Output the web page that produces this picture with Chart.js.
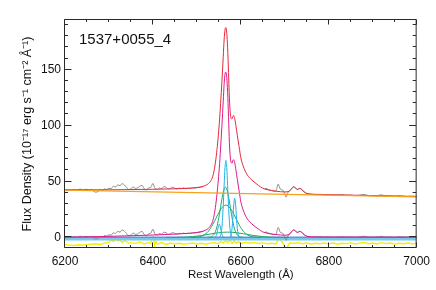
<!DOCTYPE html>
<html><head><meta charset="utf-8">
<script src="https://cdn.jsdelivr.net/npm/chart.js@4"></script>
<style>html,body{margin:0;padding:0;background:#fff}</style>
</head><body>
<canvas id="c" width="436" height="290"></canvas>
<script>
// ---------- data ----------
const objectName = '1537+0055_4';
const xTickLabels = [6200, 6400, 6600, 6800, 7000];
const yTickLabels = [0, 50, 100, 150];

// continuum (orange)
const wlCont = [6200, 7000];
const contFlux = [42.4, 36.4];

// emission-line model (magenta) and total model (red)
const wlModel = [6200,6250,6300,6350,6400,6450,6480,6500,6515,6525,6532,6537,6541,6545,6548,6551,6554,6557,6560,6562,6564,6566,6568,6570,6572,6574,6576,6578,6580,6582,6584,6586,6589,6592,6596,6600,6605,6610,6615,6620,6630,6640,6650,6660,6680,6700,6710,6716,6720,6725,6729,6734,6738,6744,6750,6760,6800,6900,7000];
const lineModel = [0.3,0.6,1.0,1.6,2.2,3.0,3.7,4.5,5.8,7.8,11,16,24,36,48,62,80,100,122,137,146,148,143,130,108,85,72,67,66.5,69,69.5,67,60,52,42,32,25,20,16.5,14,10.5,7.5,5.0,3.8,2.6,2.1,2.8,5.5,6.8,5.4,4.6,5.4,4.8,2.6,1.2,0.6,0.4,0.3,0.3];
const totalModel = [42.7,42.63,42.65,42.88,43.1,43.53,44.0,44.65,45.84,47.76,50.91,55.87,63.84,75.81,87.79,101.77,119.75,139.72,161.7,176.69,185.67,187.66,182.64,169.63,147.61,124.6,111.58,106.57,106.05,108.54,109.02,106.51,99.48,91.46,81.43,71.4,64.36,59.33,55.79,53.25,49.68,46.6,44.03,42.75,41.4,40.75,41.38,44.03,45.3,43.86,43.03,43.8,43.17,40.92,39.48,38.8,38.3,37.45,36.7];

// observed spectrum (gray, upper) and continuum-subtracted spectrum (gray, lower)
const wlData = [6200,6205,6210,6215,6220,6225,6230,6235,6240,6245,6250,6255,6260,6265,6270,6275,6280,6285,6290,6295,6300,6305,6310,6315,6320,6325,6330,6335,6340,6345,6350,6355,6360,6365,6370,6375,6380,6385,6390,6395,6400,6405,6410,6415,6420,6425,6430,6435,6440,6445,6450,6455,6460,6465,6470,6475,6480,6485,6490,6495,6500,
 6515,6525,6532,6537,6541,6545,6548,6551,6554,6557,6560,6562,6564,6566,6568,6570,6572,6574,6576,6578,6580,6582,6584,6586,6589,6592,6596,6600,6605,6610,6615,6620,6630,6640,6650,6655,
 6660,6665,6670,6675,6680,6685,6690,6695,6700,6703,6707,6710,6716,6720,6725,6729,6734,6738,6744,6750,6755,6760,6770,6780,6790,6800,6810,6820,6830,6840,6850,6860,6870,6880,6890,6900,6910,6920,6930,6940,6950,6960,6970,6980,6990,7000];
const dataFlux = [42.6,42.06,42.83,42.29,43.05,42.31,42.78,43.34,42.4,42.96,43.03,42.19,42.65,41.41,40.48,41.04,42.4,42.06,43.53,42.89,44.15,43.61,45.78,45.14,47.0,46.26,48.23,46.99,44.85,42.81,43.48,45.24,44.0,44.36,45.63,46.69,43.65,42.51,44.38,44.74,48.3,43.66,43.03,44.39,43.65,45.51,44.88,43.44,44.1,44.96,44.13,43.49,44.15,43.81,44.38,43.64,44.1,43.86,44.43,44.19,44.55,
 45.54,47.76,50.91,55.87,63.84,75.81,87.79,101.77,119.75,139.72,161.7,176.69,185.67,187.66,182.64,169.63,147.61,124.6,111.58,106.57,106.05,108.54,109.02,106.51,99.48,91.46,81.43,71.4,64.86,59.93,55.49,53.85,49.38,47.1,44.63,43.99,
 43.45,42.51,42.08,41.44,41.8,47.76,43.23,42.49,39.15,36.03,40.1,41.18,43.73,45.3,44.06,42.93,44.0,42.97,40.72,39.28,38.84,38.6,38.23,38.65,38.18,38.4,37.83,38.05,38.28,37.8,37.93,37.45,37.88,38.5,37.53,37.35,37.48,38.1,37.13,37.25,36.78,37.3,36.93,36.65,36.98,36.6];
const dataSub = [0.2,-0.3,0.5,0.0,0.8,0.1,0.6,1.2,0.3,0.9,1.0,0.2,0.7,-0.5,-1.4,-0.8,0.6,0.3,1.8,1.2,2.5,2.0,4.2,3.6,5.5,4.8,6.8,5.6,3.5,1.5,2.2,4.0,2.8,3.2,4.5,5.6,2.6,1.5,3.4,3.8,7.4,2.8,2.2,3.6,2.9,4.8,4.2,2.8,3.5,4.4,3.6,3.0,3.7,3.4,4.0,3.3,3.8,3.6,4.2,4.0,4.4,
 5.5,7.8,11,16,24,36,48,62,80,100,122,137,146,148,143,130,108,85,72,67,66.5,69,69.5,67,60,52,42,32,25.5,20.6,16.2,14.6,10.2,8.0,5.6,5.0,
 4.5,3.6,3.2,2.6,3.0,9.0,4.5,3.8,0.5,-2.6,1.5,2.6,5.2,6.8,5.6,4.5,5.6,4.6,2.4,1.0,0.6,0.4,0.1,0.6,0.2,0.5,0.0,0.3,0.6,0.2,0.4,0.0,0.5,1.2,0.3,0.2,0.4,1.1,0.2,0.4,0.0,0.6,0.3,0.1,0.5,0.2];
// wavelength window where the data lie under the model curves
const hiddenWindow = [6515, 6655];

// narrow components (cyan)
const wlN6548 = [6539,6542,6545,6547,6549,6551,6553,6555,6557,6560,6563];
const fN6548 = [0.0,0.4,2.8,6.2,10.2,12,10.2,6.2,2.8,0.4,0.0];
const wlHaNarrow = [6551,6554,6557,6560,6562,6564,6566,6568,6570,6572,6575,6578,6581];
const fHaNarrow = [0.3,2.0,9.3,28.4,46.5,62.5,69,62.5,46.5,28.4,9.3,2.0,0.3];
const wlN6583 = [6574,6577,6580,6582,6584,6586,6588,6590,6592,6595,6598];
const fN6583 = [0.1,1.3,8,18.2,29.7,35,29.7,18.2,8,1.3,0.1];

// broad components (green)
const wlBroad1 = [6525,6530,6535,6540,6545,6550,6555,6560,6565,6570,6575,6580,6585,6590,6595,6600,6605];
const fBroad1 = [0.06,0.3,1.1,3.4,8.6,17.8,29.7,40.6,45,40.6,29.7,17.8,8.6,3.4,1.1,0.3,0.06];
const wlBroad2 = [6486,6496,6506,6516,6526,6536,6546,6556,6566,6576,6586,6596,6606,6616,6626,6636,6646];
const fBroad2 = [0.04,0.18,0.7,2.2,5.5,11.5,19.2,26.2,29,26.2,19.2,11.5,5.5,2.2,0.7,0.18,0.04];
const wlBroad3 = [6430,6450,6470,6490,6510,6530,6550,6570,6590,6610,6630,6650,6670,6690,6710];
const fBroad3 = [0.02,0.08,0.28,0.78,1.73,3.05,4.29,4.8,4.29,3.05,1.73,0.78,0.28,0.08,0.02];

// zero level
const wlZero = [6200, 7000];
const zeroBand = [-1.3, -1.3];
const zeroLine = [0.3, 0.3];

// residuals (yellow, offset)
const wlResid = [6200,6210,6220,6230,6240,6250,6260,6270,6280,6290,6300,6305,6310,6315,6320,6325,6330,6335,6340,6345,6350,6360,6370,6380,6390,6395,6398,6401,6404,6407,6410,6420,6430,6440,6450,6460,6470,6480,6490,6500,6510,6520,6530,6540,6548,6555,6560,6565,6570,6575,6580,6585,6590,6595,6600,6610,6620,6630,6640,6650,6660,6670,6680,6685,6688,6692,6697,6701,6704,6708,6712,6720,6730,6740,6750,6760,6770,6780,6790,6800,6810,6820,6830,6840,6850,6860,6870,6880,6890,6900,6910,6920,6930,6940,6950,6960,6970,6980,6990,7000];
const residFlux = [-6.2,-6.8,-7.2,-6.5,-7.0,-6.4,-6.0,-5.6,-6.2,-5.0,-4.2,-2.0,-3.6,-1.5,-3.0,-2.4,-4.5,-2.6,-3.8,-5.2,-4.6,-5.5,-4.0,-5.8,-4.6,-5.4,-1.0,0.5,-7.2,-3.5,-6.0,-4.5,-6.2,-5.0,-5.8,-5.2,-6.0,-5.5,-5.0,-5.8,-5.2,-6.0,-5.0,-4.6,-5.6,-3.6,-5.0,-3.0,-4.8,-2.2,-5.4,-3.0,-5.2,-3.8,-5.6,-4.4,-5.2,-4.6,-5.4,-4.8,-5.6,-5.2,-5.8,-2.0,0.2,-3.0,-6.0,-9.0,-11,-6.5,-4.8,-5.4,-4.6,-5.6,-5.0,-5.8,-5.2,-5.6,-4.9,-5.7,-5.0,-6.0,-5.2,-5.5,-4.8,-5.8,-5.0,-4.5,-5.6,-5.0,-5.8,-4.6,-5.5,-5.0,-5.9,-5.2,-5.6,-4.9,-5.6,-5.3];

// ---------- chart ----------
const FONT = "'Liberation Sans', Arial, Helvetica, sans-serif";
function pts(xs, ys) { return xs.map((x, i) => ({x: x, y: ys[i]})); }
function line(xs, ys, color, width, smooth) {
  return {
    data: pts(xs, ys), showLine: true, borderColor: color, backgroundColor: color,
    borderWidth: width, pointRadius: 0, pointHoverRadius: 0, fill: false,
    tension: 0, cubicInterpolationMode: smooth ? 'monotone' : 'default'
  };
}
function dataLine(xs, ys, color) {
  const ds = line(xs, ys, color, 1, true);
  ds.segment = {
    borderColor: c => (c.p0.parsed.x >= hiddenWindow[0] && c.p1.parsed.x <= hiddenWindow[1]) ? 'rgba(0,0,0,0)' : undefined
  };
  return ds;
}

const framePlugin = {
  id: 'frame',
  afterDatasetsDraw(chart) {
    const {ctx, chartArea: a, scales: {x, y}} = chart;
    const L = a.left - 0.5, R = a.right - 0.5, T = a.top - 0.5, B = a.bottom - 0.5;
    ctx.save();
    ctx.strokeStyle = '#2a2a2a';
    ctx.lineWidth = 1;
    ctx.beginPath();
    ctx.rect(L, T, R - L, B - T);
    for (let v = x.min; v <= x.max + 1e-6; v += 50) {
      const p = Math.round(x.getPixelForValue(v)) - 0.5;
      const len = (Math.round(v) % 200 === 0) ? 5 : 2.5;
      ctx.moveTo(p, B); ctx.lineTo(p, B - len);
      ctx.moveTo(p, T); ctx.lineTo(p, T + len);
    }
    for (let v = 0; v <= y.max; v += 10) {
      const p = Math.round(y.getPixelForValue(v)) - 0.5;
      const len = (v % 50 === 0) ? 7 : 3.5;
      ctx.moveTo(L, p); ctx.lineTo(L + len, p);
      ctx.moveTo(R, p); ctx.lineTo(R - len, p);
    }
    ctx.stroke();
    ctx.fillStyle = '#111';
    ctx.font = '15px ' + FONT;
    ctx.textAlign = 'left';
    ctx.textBaseline = 'alphabetic';
    ctx.fillText(objectName, 79, 44);
    ctx.restore();
  }
};

new Chart(document.getElementById('c'), {
  type: 'scatter',
  data: {
    datasets: [
      line(wlCont, contFlux, '#f9a11b', 1.3, false),
      line(wlModel, totalModel, '#e8283c', 1, true),
      line(wlModel, lineModel, '#e0198c', 1, true),
      line(wlHaNarrow, fHaNarrow, '#1fb2e8', 1, true),
      line(wlN6548, fN6548, '#1fb2e8', 1, true),
      line(wlN6583, fN6583, '#1fb2e8', 1, true),
      line(wlBroad1, fBroad1, '#21a867', 1, true),
      line(wlBroad2, fBroad2, '#21a867', 1, true),
      line(wlBroad3, fBroad3, '#21a867', 1, true),
      dataLine(wlData, dataSub, '#8c8c8c'),
      dataLine(wlData, dataFlux, '#8c8c8c'),
      line(wlZero, zeroLine, '#3a64c8', 1, false),
      line(wlZero, zeroBand, '#78c8ee', 3, false),
      line(wlResid, residFlux, '#f5ee00', 1.4, false)
    ]
  },
  options: {
    responsive: false,
    animation: false,
    devicePixelRatio: 1,
    events: [],
    layout: {padding: {top: 20, right: 19, bottom: 0, left: 0}},
    plugins: {legend: {display: false}, tooltip: {enabled: false}},
    scales: {
      x: {
        type: 'linear', min: 6200, max: 7000,
        afterBuildTicks: s => { s.ticks = xTickLabels.map(v => ({value: v})); },
        afterFit: s => { s.height = 42; },
        grid: {display: false, drawTicks: false},
        border: {display: false},
        ticks: {color: '#111', font: {size: 12, family: FONT}, padding: 6, maxRotation: 0, autoSkip: false,
                callback: v => String(v)},
        title: {display: true, text: 'Rest Wavelength (Å)', color: '#111',
                font: {size: 11.5, family: FONT}, padding: {top: 0, bottom: 8}}
      },
      y: {
        type: 'linear', min: -9.4, max: 194.5,
        afterBuildTicks: s => { s.ticks = yTickLabels.map(v => ({value: v})); },
        afterFit: s => { s.width = 65; },
        grid: {display: false, drawTicks: false},
        border: {display: false},
        ticks: {color: '#111', font: {size: 12, family: FONT}, padding: 4,
                callback: v => String(v)},
        title: {display: true, text: 'Flux Density (10⁻¹⁷ erg s⁻¹ cm⁻² Å⁻¹)', color: '#111',
                font: {size: 12.5, family: FONT}, padding: {top: 20, bottom: 0}}
      }
    }
  },
  plugins: [framePlugin]
});
</script>
</body></html>
